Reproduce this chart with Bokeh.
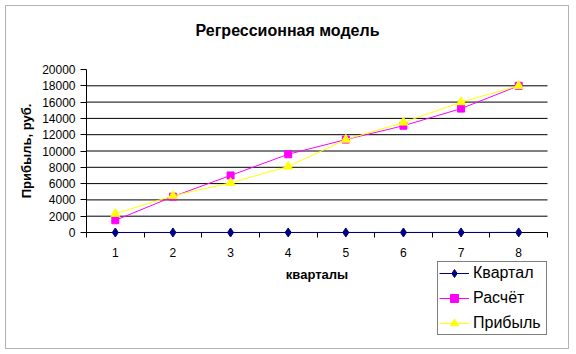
from bokeh.plotting import figure
from bokeh.models import (Range1d, FixedTicker, Legend, LegendItem, Label,
                          BoxAnnotation, ColumnDataSource)
from bokeh.embed import file_html
from bokeh.resources import INLINE

quarters = [1, 2, 3, 4, 5, 6, 7, 8]
kvartal = [1, 2, 3, 4, 5, 6, 7, 8]
raschet = [1500, 4400, 7000, 9600, 11400, 13100, 15200, 18000]
pribyl = [2300, 4500, 6100, 8100, 11400, 13500, 16000, 18000]
y_ticks = [0, 2000, 4000, 6000, 8000, 10000, 12000, 14000, 16000, 18000, 20000]

FONT = "Liberation Sans"
W, H = 576, 354
# plot-area placement in pixels (Excel-style chart area inside the canvas)
PL, PR, PT, PB = 86, 547, 69, 232
XMIN, XMAX = 0.5, 8.5
YMIN, YMAX = 0, 20000

xs = (XMAX - XMIN) / (PR - PL)
ys = (YMAX - YMIN) / (PB - PT)
x_range = Range1d(XMIN - PL * xs, XMAX + (W - PR) * xs)
y_range = Range1d(YMIN - (H - PB) * ys, YMAX + PT * ys)

p = figure(width=W, height=H, output_backend="svg", toolbar_location=None,
           x_range=x_range, y_range=y_range, min_border=0,
           min_border_left=0, min_border_right=0, min_border_top=0,
           min_border_bottom=0)
p.outline_line_color = None
p.background_fill_color = "white"
p.border_fill_color = "white"
p.grid.visible = False

# x axis
xa = p.xaxis[0]
xa.fixed_location = YMIN
xa.bounds = (XMIN, XMAX)
xa.ticker = FixedTicker(ticks=quarters, minor_ticks=[q - 0.5 for q in quarters] + [quarters[-1] + 0.5])
xa.major_tick_line_color = None
xa.major_tick_out = 0
xa.major_tick_in = 0
xa.minor_tick_out = 5
xa.minor_tick_in = 0
xa.minor_tick_line_color = "black"
xa.axis_line_color = "black"
xa.major_label_text_font = FONT
xa.major_label_text_font_size = "12px"
xa.major_label_text_color = "black"
xa.major_label_standoff = 10
xa.axis_label = "кварталы"
xa.axis_label_text_font = FONT
xa.axis_label_text_font_size = "13px"
xa.axis_label_text_font_style = "bold"
xa.axis_label_text_color = "black"
xa.axis_label_standoff = 7

# y axis
ya = p.yaxis[0]
ya.fixed_location = XMIN
ya.bounds = (YMIN, YMAX)
ya.ticker = FixedTicker(ticks=y_ticks)
ya.major_tick_out = 6
ya.major_tick_in = 0
ya.minor_tick_line_color = None
ya.axis_line_color = "black"
ya.major_label_text_font = FONT
ya.major_label_text_font_size = "12px"
ya.major_label_text_color = "black"
ya.major_label_standoff = 5
ya.axis_label = "Прибыль, руб."
ya.axis_label_text_font = FONT
ya.axis_label_text_font_size = "13px"
ya.axis_label_text_font_style = "bold"
ya.axis_label_text_color = "black"
ya.axis_label_standoff = 5

# horizontal gridlines (plot area only)
grid_y = y_ticks[1:-1]
p.segment(x0=[XMIN] * len(grid_y), x1=[XMAX] * len(grid_y), y0=grid_y, y1=grid_y,
          line_color="black", line_width=1)

src = ColumnDataSource(dict(x=quarters, k=kvartal, r=raschet, pr=pribyl))

l1 = p.line("x", "k", source=src, color="#000080", line_width=1, level="overlay")
m1 = p.scatter("x", "k", source=src, marker="diamond", size=9, color="#000080", level="overlay")
l2 = p.line("x", "r", source=src, color="#FF00FF", line_width=1)
m2 = p.scatter("x", "r", source=src, marker="square", size=7, color="#FF00FF")
l3 = p.line("x", "pr", source=src, color="#FFFF00", line_width=1)
m3 = p.scatter("x", "pr", source=src, marker="triangle", size=9, color="#FFFF00")

legend = Legend(items=[
    LegendItem(label="Квартал", renderers=[l1, m1]),
    LegendItem(label="Расчёт", renderers=[l2, m2]),
    LegendItem(label="Прибыль", renderers=[l3, m3]),
], location=(437, H - 335))
legend.label_text_font = FONT
legend.label_text_font_size = "16px"
legend.label_text_color = "black"
legend.border_line_color = "black"
legend.border_line_width = 1
legend.background_fill_alpha = 1
legend.glyph_width = 30
legend.glyph_height = 20
legend.label_height = 20
legend.label_width = 72
legend.spacing = 5
legend.padding = 1
legend.margin = 0
legend.label_standoff = 4
p.add_layout(legend, "center")

title = Label(x=287, y=H - 29.5, x_units="screen", y_units="screen",
              text="Регрессионная модель", text_font=FONT,
              text_font_size="16px", text_font_style="bold",
              text_color="black",
              text_align="center", text_baseline="alphabetic")
p.add_layout(title)

border = BoxAnnotation(left=5, right=568, top=H - 5, bottom=H - 348,
                       left_units="screen", right_units="screen",
                       top_units="screen", bottom_units="screen",
                       fill_alpha=0, line_color="black", line_width=1)
p.add_layout(border)

open("out.html", "w").write(file_html(p, INLINE))
